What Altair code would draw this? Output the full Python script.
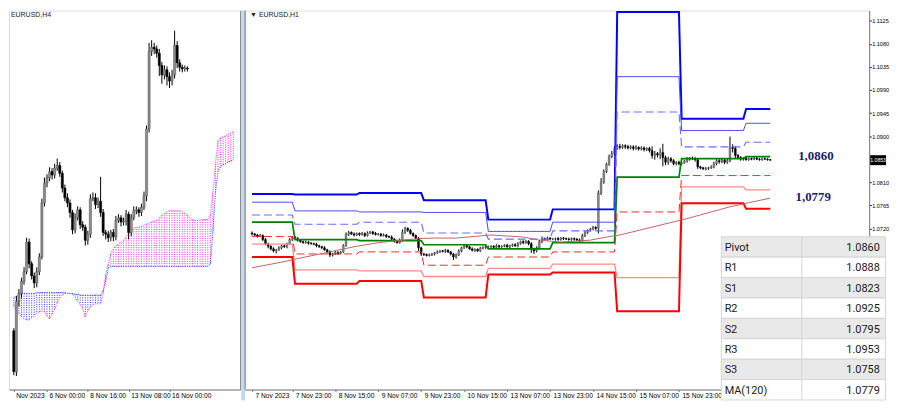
import json
import altair as alt
import pandas as pd

# ======================= LEFT PANEL : EURUSD,H4 =======================
h4_first_k = -13
h4_open0 = 1.0554
h4_close = [1.0507, 1.0588, 1.0597, 1.0611, 1.0622, 1.0656, 1.0631, 1.0617, 1.0609, 1.0622,
            1.0639, 1.0701, 1.0724, 1.0730, 1.0737, 1.0733, 1.0741, 1.0744, 1.0735, 1.0718,
            1.0707, 1.0701, 1.0690, 1.0670, 1.0684, 1.0693, 1.0676, 1.0673, 1.0658, 1.0665,
            1.0706, 1.0707, 1.0699, 1.0703, 1.0690, 1.0667, 1.0665, 1.0661, 1.0667, 1.0662,
            1.0681, 1.0684, 1.0679, 1.0680, 1.0688, 1.0667, 1.0684, 1.0692, 1.0693, 1.0690,
            1.0696, 1.0709, 1.0786, 1.0875, 1.0880, 1.0878, 1.0873, 1.0859, 1.0848, 1.0854,
            1.0846, 1.0841, 1.0848, 1.0882, 1.0862, 1.0857, 1.0855, 1.0856, 1.0855]
h4_wick_up = [3, 6, 5, 4, 5, 5, 4, 3, 4, 5,
              4, 5, 6, 4, 5, 4, 5, 8, 4, 3,
              4, 5, 4, 3, 5, 4, 3, 4, 3, 4,
              5, 6, 5, 4, 28, 4, 3, 4, 3, 4,
              5, 4, 3, 4, 5, 3, 4, 5, 4, 3,
              4, 5, 4, 10, 8, 5, 4, 5, 4, 5,
              4, 5, 6, 17, 5, 4, 3, 3, 2]
h4_wick_dn = [4, 5, 6, 5, 4, 3, 5, 4, 6, 5,
              4, 3, 4, 5, 4, 5, 4, 3, 4, 5,
              4, 5, 6, 5, 4, 3, 5, 4, 6, 5,
              4, 3, 5, 4, 5, 4, 6, 5, 4, 5,
              4, 3, 5, 4, 5, 8, 4, 3, 4, 5,
              4, 3, 6, 4, 5, 6, 5, 12, 10, 5,
              10, 8, 5, 4, 6, 5, 4, 3, 3]
h4_tick_k = [-13, 0, 16, 32, 48]
h4_tick_labels = ["Nov 2023", "6 Nov 00:00", "8 Nov 16:00", "13 Nov 08:00", "16 Nov 00:00"]

cloud_first_k = -13
span_a = [1.0592, 1.0594, 1.0596,
          1.0597, 1.0597, 1.0597, 1.0597, 1.0597, 1.0597,
          1.0598, 1.0598, 1.0598, 1.0598, 1.0598, 1.0598, 1.0598, 1.0598, 1.0598, 1.0598, 1.0598, 1.0598,
          1.0597, 1.0597, 1.0597,
          1.0596, 1.0596,
          1.0595, 1.0595, 1.0595, 1.0595, 1.0595, 1.0595, 1.0595, 1.0595, 1.0595,
          1.0600, 1.0611, 1.0626,
          1.0628, 1.0628, 1.0628, 1.0628, 1.0628, 1.0628, 1.0628, 1.0628, 1.0628, 1.0628,
          1.0628, 1.0628, 1.0628, 1.0628, 1.0628, 1.0628, 1.0628, 1.0628, 1.0628, 1.0628,
          1.0628, 1.0628, 1.0628, 1.0628, 1.0628, 1.0628, 1.0628, 1.0628, 1.0628, 1.0628,
          1.0628, 1.0628, 1.0628, 1.0628, 1.0628, 1.0628, 1.0628, 1.0628, 1.0628,
          1.0631, 1.0667, 1.0713, 1.0737, 1.0743, 1.0745, 1.0746, 1.0748, 1.0749, 1.0750]
span_b = [1.0583, 1.0577, 1.0574, 1.0570, 1.0568, 1.0566, 1.0567, 1.0569, 1.0571, 1.0574,
          1.0576, 1.0577, 1.0576, 1.0571, 1.0568, 1.0573, 1.0579, 1.0586, 1.0592, 1.0595,
          1.0597, 1.0597, 1.0597, 1.0596, 1.0593, 1.0588, 1.0584, 1.0579, 1.0570, 1.0577,
          1.0581, 1.0584, 1.0585, 1.0585, 1.0585, 1.0597, 1.0619, 1.0631, 1.0643, 1.0648,
          1.0652, 1.0654, 1.0656, 1.0658, 1.0662, 1.0667, 1.0671, 1.0672, 1.0673, 1.0673,
          1.0674, 1.0675, 1.0677, 1.0678, 1.0679, 1.0680, 1.0681, 1.0683, 1.0687, 1.0689,
          1.0691, 1.0692, 1.0692, 1.0692, 1.0692, 1.0692, 1.0691, 1.0689, 1.0687, 1.0683,
          1.0682, 1.0681, 1.0681, 1.0681, 1.0682, 1.0682, 1.0682, 1.0688, 1.0713, 1.0746,
          1.0772, 1.0776, 1.0777, 1.0778, 1.0780, 1.0781, 1.0783]

# ======================= RIGHT PANEL : EURUSD,H1 =======================
h1_first_t = -16
h1_open0 = 1.0711
c_7 = [1.0709, 1.0707, 1.0705, 1.0706, 1.0698, 1.0690, 1.0685, 1.0680, 1.0676, 1.0678, 1.0682, 1.0686,
       1.0684, 1.0690, 1.0698, 1.0703]
c_8 = [1.0700, 1.0697, 1.0694, 1.0692, 1.0693, 1.0691, 1.0690, 1.0689, 1.0686, 1.0684, 1.0682, 1.0678,
       1.0674, 1.0668, 1.0670, 1.0673, 1.0671, 1.0674, 1.0686, 1.0708, 1.0712, 1.0709, 1.0707, 1.0710]
c_9 = [1.0708, 1.0710, 1.0706, 1.0711, 1.0713, 1.0710, 1.0708, 1.0709, 1.0706, 1.0707, 1.0704, 1.0703,
       1.0699, 1.0695, 1.0692, 1.0696, 1.0712, 1.0720, 1.0716, 1.0710, 1.0706, 1.0700, 1.0682, 1.0670]
c_10 = [1.0669, 1.0667, 1.0668, 1.0670, 1.0672, 1.0674, 1.0676, 1.0675, 1.0677, 1.0674, 1.0670, 1.0664,
        1.0668, 1.0676, 1.0682, 1.0686, 1.0684, 1.0680, 1.0677, 1.0679, 1.0676, 1.0681, 1.0683, 1.0684]
c_13 = [1.0684, 1.0685, 1.0683, 1.0686, 1.0684, 1.0685, 1.0687, 1.0684, 1.0686, 1.0688, 1.0686, 1.0690,
        1.0694, 1.0692, 1.0695, 1.0690, 1.0680, 1.0676, 1.0682, 1.0694, 1.0700, 1.0698, 1.0701, 1.0699]
c_14 = [1.0699, 1.0700, 1.0698, 1.0701, 1.0700, 1.0699, 1.0698, 1.0700, 1.0699, 1.0697, 1.0696, 1.0705,
        1.0712, 1.0716, 1.0718, 1.0722, 1.0720, 1.0789, 1.0810, 1.0831, 1.0845, 1.0860, 1.0866, 1.0876]
c_15 = [1.0880, 1.0878, 1.0881, 1.0879, 1.0877, 1.0879, 1.0876, 1.0878, 1.0875, 1.0877, 1.0874, 1.0876,
        1.0872, 1.0862, 1.0866, 1.0863, 1.0868, 1.0858, 1.0849, 1.0856, 1.0852, 1.0846, 1.0849, 1.0846]
c_16 = [1.0848, 1.0851, 1.0855, 1.0857, 1.0856, 1.0854, 1.0840, 1.0838, 1.0836, 1.0837, 1.0838, 1.0840,
        1.0846, 1.0852, 1.0850, 1.0853, 1.0849, 1.0852, 1.0878, 1.0876, 1.0862, 1.0858, 1.0855, 1.0857]
c_17 = [1.0854, 1.0856, 1.0855, 1.0857, 1.0855, 1.0854, 1.0856, 1.0855, 1.0854, 1.0853]
h1_close = c_7 + c_8 + c_9 + c_10 + c_13 + c_14 + c_15 + c_16 + c_17

h1_wick_up = ([3, 2, 2, 3, 2, 3, 2, 2, 3, 2, 3, 2, 3, 2, 3, 2]
              + [2, 3, 2, 2, 3, 2, 2, 2, 3, 2, 2, 3, 2, 3, 2, 3, 2, 2, 3, 4, 3, 2, 3, 2]
              + [2, 3, 2, 3, 2, 2, 3, 2, 2, 3, 2, 2, 3, 2, 2, 4, 6, 3, 2, 3, 2, 2, 3, 2]
              + [2, 2, 3, 2, 2, 3, 2, 2, 3, 2, 2, 2, 3, 3, 2, 3, 2, 2, 3, 2, 2, 3, 2, 2]
              + [2, 2, 2, 3, 2, 2, 2, 3, 2, 2, 3, 3, 2, 3, 2, 2, 3, 2, 3, 3, 4, 2, 3, 2]
              + [2, 2, 3, 2, 2, 2, 3, 2, 2, 2, 3, 4, 3, 2, 3, 3, 2, 5, 8, 4, 3, 4, 5, 4]
              + [4, 5, 3, 3, 4, 3, 3, 4, 2, 3, 3, 2, 3, 8, 5, 3, 8, 17, 4, 4, 3, 3, 2, 3]
              + [2, 3, 4, 2, 3, 3, 3, 2, 2, 3, 2, 3, 4, 3, 3, 4, 3, 4, 21, 6, 4, 3, 3, 2]
              + [2, 2, 2, 3, 2, 2, 2, 2, 2, 1])
h1_wick_dn = ([3, 2, 3, 2, 3, 3, 4, 3, 3, 5, 2, 3, 2, 3, 2, 3]
              + [2, 3, 2, 2, 2, 3, 2, 2, 3, 2, 3, 2, 3, 4, 3, 2, 3, 2, 2, 2, 3, 2, 3, 2]
              + [3, 2, 3, 2, 2, 3, 2, 2, 3, 2, 3, 2, 3, 3, 2, 2, 2, 3, 3, 2, 3, 2, 6, 4]
              + [3, 2, 2, 2, 3, 2, 2, 2, 3, 2, 3, 6, 3, 2, 3, 2, 3, 2, 2, 3, 2, 2, 2, 3]
              + [2, 3, 2, 2, 3, 2, 2, 2, 3, 2, 2, 3, 2, 3, 2, 3, 8, 6, 3, 2, 3, 2, 2, 2]
              + [2, 3, 2, 2, 3, 2, 2, 2, 3, 2, 3, 2, 2, 3, 2, 2, 3, 10, 4, 3, 3, 3, 3, 4]
              + [3, 4, 3, 4, 3, 3, 4, 3, 3, 3, 4, 3, 4, 6, 8, 5, 8, 17, 6, 5, 4, 3, 3, 3]
              + [3, 2, 3, 3, 3, 4, 4, 3, 2, 3, 3, 2, 3, 3, 4, 3, 4, 3, 3, 8, 5, 3, 3, 3]
              + [2, 2, 2, 2, 2, 2, 2, 2, 2, 1])

# daily pivot levels (7, 8, 9, 10, 13, 14, 15, 16, 17 Nov)
day_start = [-16, 0, 24, 48, 72, 96, 120, 144, 168]
day_end = [-1, 23, 47, 71, 95, 119, 143, 167, 177]
lvl_r3 = [1.0787, 1.0786, 1.0789, 1.0775, 1.0737, 1.0757, 1.1142, 1.0934, 1.0953]
lvl_r2 = [1.0771, 1.0754, 1.0752, 1.0751, 1.0714, 1.0732, 1.1016, 1.0911, 1.0925]
lvl_r1 = [1.0746, 1.0728, 1.0732, 1.0711, 1.0699, 1.0715, 1.0947, 1.0879, 1.0888]
lvl_p = [1.0732, 1.0698, 1.0696, 1.0688, 1.0680, 1.0692, 1.0820, 1.0856, 1.0860]
lvl_s1 = [1.0704, 1.0670, 1.0674, 1.0648, 1.0664, 1.0674, 1.0752, 1.0823, 1.0823]
lvl_s2 = [1.0689, 1.0639, 1.0637, 1.0626, 1.0642, 1.0650, 1.0624, 1.0801, 1.0795]
lvl_s3 = [1.0664, 1.0612, 1.0617, 1.0585, 1.0630, 1.0634, 1.0558, 1.0769, 1.0758]

ma_t = [-16, -5, 1, 13, 22, 31, 40, 46, 52, 60, 73, 85, 91, 99, 110, 116, 121, 146, 162, 177]
ma_v = [1.0643, 1.0654, 1.0661, 1.0674, 1.0684, 1.0692, 1.0697, 1.0700, 1.0701, 1.0701,
        1.0707, 1.0703, 1.0697, 1.0693, 1.0697, 1.0703, 1.0707, 1.0739, 1.0762, 1.0779]

h1_tick_t = [-16, -1, 15, 31, 47, 63, 79, 95, 111, 127, 143]
h1_tick_labels = ["7 Nov 2023", "7 Nov 23:00", "8 Nov 15:00", "9 Nov 07:00", "9 Nov 23:00",
                  "10 Nov 15:00", "13 Nov 07:00", "13 Nov 23:00", "14 Nov 15:00", "15 Nov 07:00",
                  "15 Nov 23:00"]
price_ticks = [1.1125, 1.1080, 1.1035, 1.0990, 1.0945, 1.0900, 1.0810, 1.0765, 1.0720]
last_price = 1.0853

callout_t = [194, 193]
callout_v = [1.0860, 1.0779]
callout_txt = ["1,0860", "1,0779"]

table_labels = ["Pivot", "R1", "S1", "R2", "S2", "R3", "S3", "MA(120)"]
table_values = ["1.0860", "1.0888", "1.0823", "1.0925", "1.0795", "1.0953", "1.0758", "1.0779"]

# ======================= layout constants (svg 884 x 393) =======================
H = 382
WL = 233
WR = 629
BULL = "#8c8c8c"
BEAR = "#000000"
AXIS_GREY = "#7a7a7a"
FONT = "Liberation Sans, Arial, sans-serif"
NARROW = "Liberation Sans Narrow, Arial Narrow, Liberation Sans, sans-serif"


def candles(first, closes, open0, wu, wd, name):
    rows = []
    prev = open0
    for i, c in enumerate(closes):
        o = prev
        rows.append({name: first + i, "open": o, "close": c,
                     "high": max(o, c) + wu[i] * 0.0001,
                     "low": min(o, c) - wd[i] * 0.0001})
        prev = c
    return pd.DataFrame(rows)


def label_expr(vals, labs):
    return f"{json.dumps(labs)}[indexof({json.dumps(vals)}, datum.value)]"


# ----------------------------- LEFT chart -----------------------------
h4 = candles(h4_first_k, h4_close, h4_open0, h4_wick_up, h4_wick_dn, "k")
cloud = pd.DataFrame({"k": [cloud_first_k + i for i in range(len(span_a))],
                      "a": span_a, "b": span_b})
cloud["hue"] = ["#3030ff" if a >= b else "#ff20ff" for a, b in zip(cloud["a"], cloud["b"])]

xL_scale = alt.Scale(domain=[-12.95, 73.74], nice=False, zero=False)
yL_scale = alt.Scale(domain=[1.04865, 1.09221], nice=False, zero=False)
xL_axis = alt.Axis(values=h4_tick_k, labelExpr=label_expr(h4_tick_k, h4_tick_labels),
                   title=None, grid=False, labelAlign="left", labelOffset=2, labelFontSize=6.7,
                   labelFont=FONT, labelColor="#000", tickSize=2, tickColor=AXIS_GREY,
                   domainColor=AXIS_GREY, labelPadding=1, labelFlush=False, labelOverlap=False)
yL_axis = alt.Axis(orient="right", labels=False, ticks=False, grid=False, title=None,
                   domainColor=AXIS_GREY)


def XL(f):
    return alt.X(f, scale=xL_scale, axis=xL_axis)


def YL(f):
    return alt.Y(f, scale=yL_scale, axis=yL_axis)


hatch = alt.Chart(cloud).mark_rule(strokeDash=[1, 1.3], strokeWidth=1, clip=True).encode(
    x=XL("k:Q"), y=YL("a:Q"), y2="b:Q", color=alt.Color("hue:N", scale=None))
line_a = alt.Chart(cloud).mark_line(strokeDash=[1, 1.3], strokeWidth=1, color="#3030ff",
                                     clip=True).encode(x=XL("k:Q"), y=YL("a:Q"))
line_b = alt.Chart(cloud).mark_line(strokeDash=[1, 1.3], strokeWidth=1, color="#ff20ff",
                                     clip=True).encode(x=XL("k:Q"), y=YL("b:Q"))
wickL = alt.Chart(h4).mark_rule(color="#000", strokeWidth=1, clip=True).encode(
    x=XL("k:Q"), y=YL("low:Q"), y2="high:Q")
bodyL = alt.Chart(h4).mark_bar(width=2.2, clip=True, strokeWidth=0.5).encode(
    x=XL("k:Q"), y=YL("open:Q"), y2="close:Q",
    color=alt.condition("datum.close >= datum.open", alt.value(BULL), alt.value(BEAR)),
    stroke=alt.condition("datum.close >= datum.open", alt.value("#555"), alt.value(BEAR)))
titleL = alt.Chart(pd.DataFrame({"s": ["EURUSD,H4"]})).mark_text(
    align="left", baseline="top", fontSize=7, font=FONT, color="#222").encode(
    text="s:N", x=alt.value(2), y=alt.value(1))
stripL = alt.Chart(pd.DataFrame({"s": ["strip"]})).mark_rect(color="#c6d8ee").encode(
    x=alt.value(WL + 1), x2=alt.value(WL + 5), y=alt.value(0), y2=alt.value(393))

left = alt.layer(stripL, hatch, line_a, line_b, wickL, bodyL, titleL).properties(
    width=WL, height=H)

# ----------------------------- RIGHT chart -----------------------------
h1 = candles(h1_first_t, h1_close, h1_open0, h1_wick_up, h1_wick_dn, "t")

level_rows = []
for name, vals in [("R3", lvl_r3), ("R2", lvl_r2), ("R1", lvl_r1), ("P", lvl_p),
                   ("S1", lvl_s1), ("S2", lvl_s2), ("S3", lvl_s3)]:
    for d in range(len(day_start)):
        for t in range(day_start[d], day_end[d] + 1):
            level_rows.append({"lvl": name, "t": t, "v": vals[d]})
levels = pd.DataFrame(level_rows)
ma = pd.DataFrame({"t": ma_t, "v": ma_v})

xR_scale = alt.Scale(domain=[-16.727, 212.0], nice=False, zero=False)
yR_scale = alt.Scale(domain=[1.04054, 1.1145], nice=False, zero=False)
xR_axis = alt.Axis(values=h1_tick_t, labelExpr=label_expr(h1_tick_t, h1_tick_labels),
                   title=None, grid=False, labelAlign="left", labelOffset=3, labelFontSize=6.7,
                   labelFont=FONT, labelColor="#000", tickSize=2, tickColor=AXIS_GREY,
                   domainColor=AXIS_GREY, labelPadding=1, labelFlush=False, labelOverlap=False)
yR_axis = alt.Axis(orient="right", values=price_ticks, format=".4f", title=None, grid=False,
                   labelFontSize=5.6, labelFont=NARROW, labelColor="#000", tickSize=2,
                   tickColor="#000", domainColor=AXIS_GREY, labelPadding=0.5)


def XR(f):
    return alt.X(f, scale=xR_scale, axis=xR_axis)


def YR(f):
    return alt.Y(f, scale=yR_scale, axis=yR_axis)


styles = {"R3": ("#0000ff", 2.0, None), "R2": ("#4646ff", 1.0, None),
          "R1": ("#6a6aff", 1.1, [8, 4]), "P": ("#008000", 1.7, None),
          "S1": ("#ff2020", 1.0, [8, 4]), "S2": ("#ff8a8a", 1.3, None),
          "S3": ("#ff0000", 2.0, None)}

wickR = alt.Chart(h1).mark_rule(color="#000", strokeWidth=1).encode(
    x=XR("t:Q"), y=YR("low:Q"), y2="high:Q")
bodyR = alt.Chart(h1).mark_bar(width=1.8, strokeWidth=0.5).encode(
    x=XR("t:Q"), y=YR("open:Q"), y2="close:Q",
    color=alt.condition("datum.close >= datum.open", alt.value(BULL), alt.value(BEAR)),
    stroke=alt.condition("datum.close >= datum.open", alt.value("#555"), alt.value(BEAR)))

lvl_layers = []
for name, (col, w, dash) in styles.items():
    kw = dict(color=col, strokeWidth=w, clip=True)
    if dash:
        kw["strokeDash"] = dash
    lvl_layers.append(alt.Chart(levels).transform_filter(f"datum.lvl == '{name}'")
                      .mark_line(**kw).encode(x=XR("t:Q"), y=YR("v:Q")))
ma_line = alt.Chart(ma).mark_line(color="#c06464", strokeWidth=1).encode(
    x=XR("t:Q"), y=YR("v:Q"))

callouts = alt.Chart(pd.DataFrame({"t": callout_t, "v": callout_v, "s": callout_txt})).mark_text(
    font="Liberation Serif", fontWeight="bold", fontSize=13, color="#1b1b6b",
    align="center", baseline="middle", dy=-1).encode(x=XR("t:Q"), y=YR("v:Q"), text="s:N")

frameR = alt.Chart(pd.DataFrame({"s": ["frame"]})).mark_rule(color=AXIS_GREY).encode(
    x=alt.value(0), y=alt.value(0), y2=alt.value(H))
titleR = alt.Chart(pd.DataFrame({"s": ["\u25bc EURUSD,H1"]})).mark_text(
    align="left", baseline="top", fontSize=7, font=FONT, color="#222").encode(
    text="s:N", x=alt.value(5), y=alt.value(1))

lp = pd.DataFrame({"v": [last_price], "s": [f"{last_price:.4f}"]})
lp_box = alt.Chart(lp).mark_rule(color="#000", strokeWidth=10, strokeCap="butt").encode(
    x=alt.value(WR + 1), x2=alt.value(WR + 17), y=YR("v:Q"))
lp_txt = alt.Chart(lp).mark_text(color="#fff", fontSize=5.2, font=NARROW, align="center",
                                 baseline="middle").encode(
    x=alt.value(WR + 9), y=YR("v:Q"), text="s:N")

main = alt.layer(frameR, wickR, bodyR, *lvl_layers, ma_line, callouts, titleR, lp_box, lp_txt)

# table overlay (rows via own scales)
n = len(table_labels)
tbl = pd.DataFrame({"r0": list(range(n)), "r1": [i + 1 for i in range(n)],
                    "lab": table_labels, "val": table_values,
                    "bg": ["#e9e9e9" if i % 2 == 0 else "#ffffff" for i in range(n)],
                    "c0": [0.0] * n, "c1": [1.0] * n, "cl": [0.02] * n, "cv": [0.965] * n,
                    "cd": [0.49] * n})
tx = alt.Scale(domain=[0, 1], range=[480, 645.5], nice=False, zero=False)
ty = alt.Scale(domain=[0, n], range=[228, 392.5], nice=False, zero=False)
t_rect = alt.Chart(tbl).mark_rect(stroke="#d6d6d6", strokeWidth=1).encode(
    x=alt.X("c0:Q", scale=tx, axis=None), x2="c1:Q",
    y=alt.Y("r0:Q", scale=ty, axis=None), y2="r1:Q",
    color=alt.Color("bg:N", scale=None))
t_div = alt.Chart(tbl).mark_rule(color="#d6d6d6", strokeWidth=1).encode(
    x=alt.X("cd:Q", scale=tx, axis=None), y=alt.Y("r0:Q", scale=ty, axis=None), y2="r1:Q")
t_lab = alt.Chart(tbl).mark_text(align="left", baseline="middle", font="Roboto",
                                 fontSize=11, color="#1a1a1a", dy=1).encode(
    x=alt.X("cl:Q", scale=tx, axis=None), y=alt.Y("r0:Q", scale=ty, axis=None),
    yOffset=alt.value(10.3), text="lab:N")
t_val = alt.Chart(tbl).mark_text(align="right", baseline="middle", font="Roboto",
                                 fontSize=11, color="#1a1a1a", dy=1).encode(
    x=alt.X("cv:Q", scale=tx, axis=None), y=alt.Y("r0:Q", scale=ty, axis=None),
    yOffset=alt.value(10.3), text="val:N")
table = alt.layer(t_rect, t_div, t_lab, t_val)

right = alt.layer(main, table).resolve_scale(x="independent", y="independent").properties(
    width=WR, height=H)

chart = alt.hconcat(left, right, spacing=5, bounds="flush").properties(
    padding=0, background="#ffffff").configure_view(stroke=None).configure(font="Liberation Sans")

chart.save("out.html", embed_options={"renderer": "svg", "actions": False})
